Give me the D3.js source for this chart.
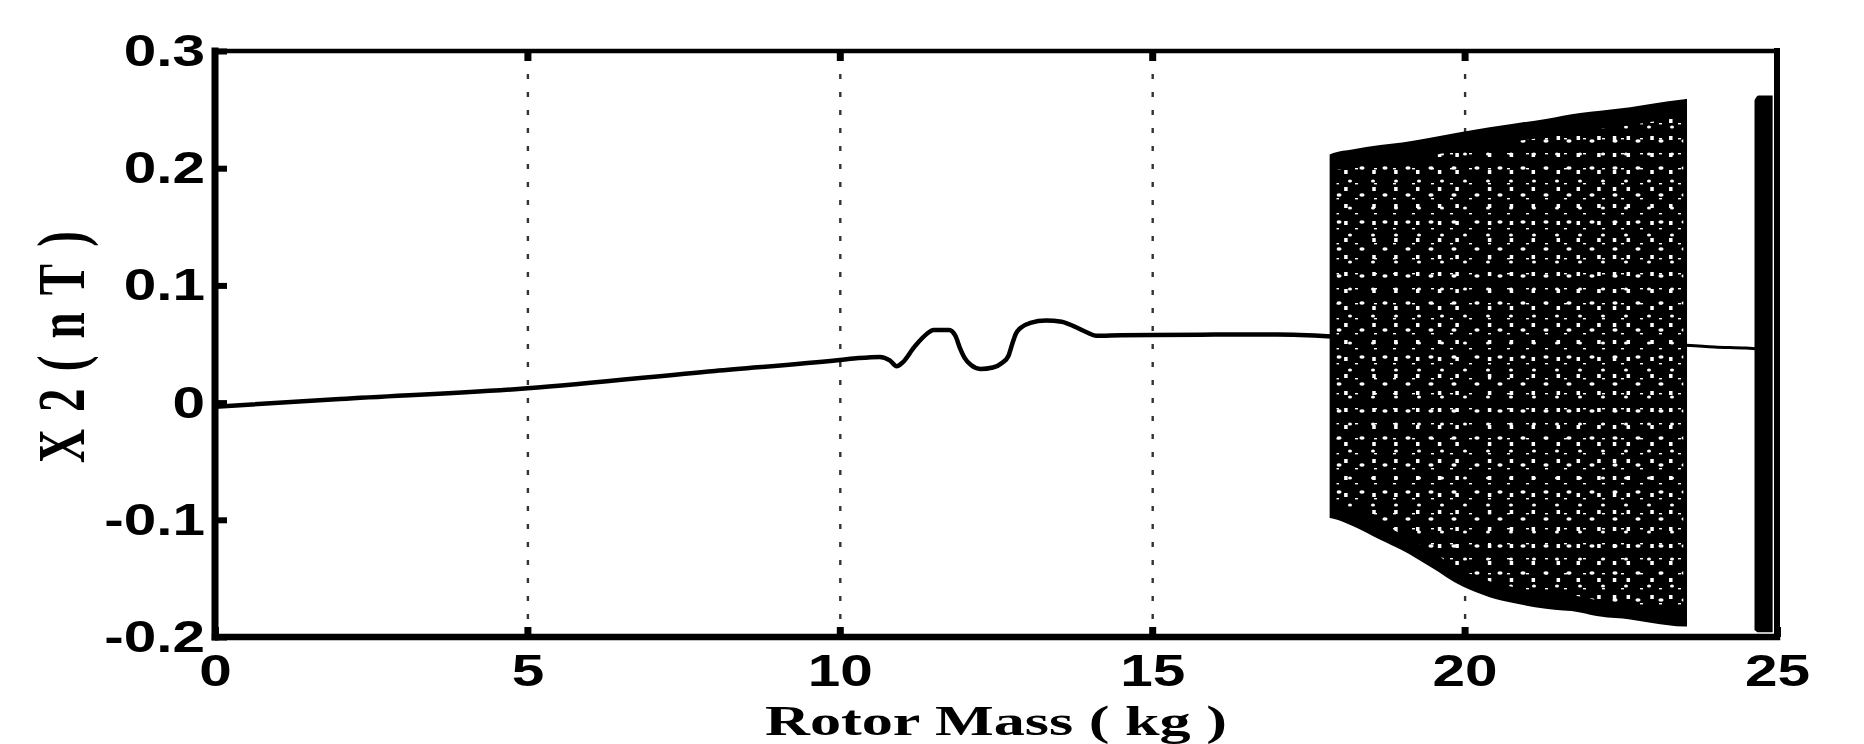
<!DOCTYPE html>
<html>
<head>
<meta charset="utf-8">
<script src="https://cdn.jsdelivr.net/npm/d3@7"></script>
<style>
html, body { margin: 0; padding: 0; background: #fff; }
</style>
</head>
<body>
<div id="container"></div>
<script>
const width = 1864;
const height = 744;

// periodic branch, rotor mass 0 .. 17.9 kg
const massA = [0, 2, 5, 8, 10, 10.3, 10.64, 10.8, 10.91, 11.0, 11.2, 11.4, 11.5, 11.75, 11.85, 11.92, 12.0, 12.1, 12.25, 12.45, 12.6, 12.7, 12.76, 12.82, 12.9, 13.05, 13.3, 13.55, 13.75, 13.95, 14.1, 14.5, 15, 16, 17, 17.87];
const x2A = [-0.0035, 0.003, 0.0122, 0.027, 0.0363, 0.038, 0.039, 0.036, 0.031, 0.034, 0.048, 0.059, 0.062, 0.062, 0.057, 0.047, 0.038, 0.032, 0.0287, 0.030, 0.034, 0.040, 0.050, 0.059, 0.064, 0.068, 0.070, 0.069, 0.065, 0.060, 0.057, 0.0575, 0.0577, 0.058, 0.058, 0.0563];
// periodic branch between the two chaotic windows
const massB = [23.54, 24.0, 24.5, 24.66];
const x2B = [0.049, 0.0475, 0.0465, 0.046];
// first chaotic window (envelope)
const chaosMass = [17.84, 17.9, 18.2, 18.65, 19.0, 19.45, 19.97, 20.4, 20.78, 21.3, 21.85, 22.17, 22.65, 23.0, 23.52, 23.56];
const chaosTop = [0.2116, 0.213, 0.216, 0.2197, 0.222, 0.226, 0.231, 0.235, 0.238, 0.242, 0.247, 0.249, 0.252, 0.255, 0.2588, 0.259];
const chaosBottom = [-0.0985, -0.099, -0.105, -0.117, -0.126, -0.140, -0.157, -0.166, -0.171, -0.176, -0.179, -0.1826, -0.185, -0.188, -0.191, -0.191];
// second chaotic window (envelope)
const chaos2Mass = [24.64, 24.7, 24.93];
const chaos2Top = [0.258, 0.262, 0.262];
const chaos2Bottom = [-0.194, -0.196, -0.196];
// light vertical streaks seen inside the first window
const streakMass = [18.1, 18.55, 18.9, 19.25, 19.6, 19.88, 20.4, 20.75, 21.1, 21.5, 21.82, 22.15, 22.4, 22.62, 23.0, 23.3];

const xTicks = [0, 5, 10, 15, 20, 25];
const xTickLabels = ["0", "5", "10", "15", "20", "25"];
const yTicks = [-0.2, -0.1, 0, 0.1, 0.2, 0.3];
const yTickLabels = ["-0.2", "-0.1", "0", "0.1", "0.2", "0.3"];
const gridTicks = [5, 10, 15, 20];

const pLeft = 215, pRight = 1777, pTop = 51, pBottom = 637;
const x = d3.scaleLinear().domain([0, 25]).range([pLeft, pRight]);
const y = d3.scaleLinear().domain([-0.2, 0.3]).range([pBottom, pTop]);

const svg = d3.select("#container")
    .append("svg")
    .attr("width", width)
    .attr("height", height)
    .style("display", "block");

svg.append("rect").attr("width", width).attr("height", height).attr("fill", "#fff");

const defs = svg.append("defs");
const p1 = defs.append("pattern").attr("id", "speck1")
    .attr("patternUnits", "userSpaceOnUse").attr("width", 23).attr("height", 27);
p1.append("ellipse").attr("cx", 5).attr("cy", 6).attr("rx", 2.6).attr("ry", 1.8).attr("fill", "#fff");
p1.append("ellipse").attr("cx", 16).attr("cy", 19).attr("rx", 2).attr("ry", 1.5).attr("fill", "#fff");
const p2 = defs.append("pattern").attr("id", "speck2")
    .attr("patternUnits", "userSpaceOnUse").attr("width", 19).attr("height", 15);
p2.append("rect").attr("x", 6).attr("y", 3).attr("width", 3).attr("height", 1.4).attr("fill", "#fff");

// vertical dotted grid
svg.append("g")
    .attr("transform", `translate(0,${pBottom})`)
    .call(d3.axisBottom(x).tickValues(gridTicks).tickSize(-(pBottom - pTop)).tickFormat(""))
    .call((g) => g.select(".domain").remove())
    .selectAll("line")
    .attr("stroke", "#333")
    .attr("stroke-width", 2.4)
    .attr("stroke-dasharray", "5,13");

// chaotic windows
const chaos = chaosMass.map((m, i) => ({ m: m, t: chaosTop[i], b: chaosBottom[i] }));
const chaos2 = chaos2Mass.map((m, i) => ({ m: m, t: chaos2Top[i], b: chaos2Bottom[i] }));
const band = d3.area().x((d) => x(d.m)).y0((d) => y(d.b)).y1((d) => y(d.t)).curve(d3.curveMonotoneX);
const inner = d3.area().x((d) => x(d.m)).y0((d) => y(d.b) - 16).y1((d) => y(d.t) + 18).curve(d3.curveMonotoneX);

svg.append("path").datum(chaos).attr("d", band).attr("fill", "#000");
svg.append("path").datum(chaos2).attr("d", band).attr("fill", "#000");

defs.append("clipPath").attr("id", "innerClip")
    .append("path").datum(chaos).attr("d", inner);

const tex = svg.append("g").attr("clip-path", "url(#innerClip)");
tex.append("rect").attr("x", x(17.95)).attr("y", pTop).attr("width", x(23.5) - x(17.95)).attr("height", pBottom - pTop)
    .attr("fill", "url(#speck1)");
tex.append("rect").attr("x", x(17.95)).attr("y", pTop).attr("width", x(23.5) - x(17.95)).attr("height", pBottom - pTop)
    .attr("fill", "url(#speck2)");
tex.selectAll("line.streak")
    .data(streakMass)
    .enter()
    .append("line")
    .attr("class", "streak")
    .attr("x1", (d) => x(d)).attr("x2", (d) => x(d))
    .attr("y1", pTop).attr("y2", pBottom)
    .attr("stroke", "#fff")
    .attr("stroke-width", 3.5)
    .attr("stroke-dasharray", "4,13");

svg.append("rect").attr("x", x(24.68)).attr("y", y(0.22)).attr("width", x(24.88) - x(24.68)).attr("height", y(-0.16) - y(0.22))
    .attr("fill", "url(#speck2)");

// periodic branches
const line = d3.line().x((d) => x(d[0])).y((d) => y(d[1])).curve(d3.curveMonotoneX);
svg.append("path").datum(massA.map((m, i) => [m, x2A[i]]))
    .attr("d", line).attr("fill", "none").attr("stroke", "#000").attr("stroke-width", 4.5);
svg.append("path").datum(massB.map((m, i) => [m, x2B[i]]))
    .attr("d", line).attr("fill", "none").attr("stroke", "#000").attr("stroke-width", 3);

// frame
const frame = svg.append("g").attr("stroke", "#000").attr("stroke-linecap", "square");
frame.append("line").attr("x1", pLeft).attr("x2", pRight).attr("y1", pTop).attr("y2", pTop).attr("stroke-width", 4.5);
frame.append("line").attr("x1", pLeft).attr("x2", pRight).attr("y1", pBottom).attr("y2", pBottom).attr("stroke-width", 6.5);
frame.append("line").attr("x1", pLeft).attr("x2", pLeft).attr("y1", pTop).attr("y2", pBottom).attr("stroke-width", 7);
frame.append("line").attr("x1", pRight).attr("x2", pRight).attr("y1", pTop).attr("y2", pBottom).attr("stroke-width", 6);

const sx = 1.3;
const tickFont = "'Liberation Sans', Arial, sans-serif";

// bottom axis: inward ticks + labels
const xAxis = svg.append("g")
    .attr("transform", `translate(0,${pBottom})`)
    .call(d3.axisBottom(x).tickValues(xTicks).tickSizeInner(-10).tickSizeOuter(0).tickPadding(17)
        .tickFormat((d, i) => xTickLabels[i]));
xAxis.select(".domain").remove();
xAxis.selectAll("line").attr("stroke", "#000").attr("stroke-width", 7);
xAxis.selectAll("text")
    .attr("font-family", tickFont).attr("font-weight", "bold").attr("font-size", 45)
    .attr("fill", "#000")
    .attr("transform", `scale(${sx},1)`);

// top axis: inward ticks only
const xTopAxis = svg.append("g")
    .attr("transform", `translate(0,${pTop})`)
    .call(d3.axisTop(x).tickValues(gridTicks).tickSizeInner(-10).tickSizeOuter(0).tickFormat(""));
xTopAxis.select(".domain").remove();
xTopAxis.selectAll("line").attr("stroke", "#000").attr("stroke-width", 7);

// left axis
const yAxis = svg.append("g")
    .attr("transform", `translate(${pLeft},0)`)
    .call(d3.axisLeft(y).tickValues(yTicks).tickSizeInner(-12).tickSizeOuter(0).tickPadding(10)
        .tickFormat((d, i) => yTickLabels[i]));
yAxis.select(".domain").remove();
yAxis.selectAll("line").attr("stroke", "#000").attr("stroke-width", 6);
yAxis.selectAll("text")
    .attr("font-family", tickFont).attr("font-weight", "bold").attr("font-size", 45)
    .attr("fill", "#000")
    .attr("x", -10 / sx)
    .attr("transform", `scale(${sx},1)`);

// axis titles
svg.append("text")
    .attr("x", (pLeft + pRight) / 2).attr("y", 735)
    .attr("text-anchor", "middle")
    .attr("font-family", "'Liberation Serif', 'Times New Roman', serif")
    .attr("font-weight", "bold").attr("font-size", 43)
    .attr("textLength", 462).attr("lengthAdjust", "spacingAndGlyphs")
    .text("Rotor Mass ( kg )");

svg.append("text")
    .attr("transform", "translate(84,347) scale(1.45,1) rotate(-90)")
    .attr("text-anchor", "middle")
    .attr("font-family", "'Liberation Serif', 'Times New Roman', serif")
    .attr("font-weight", "bold").attr("font-size", 47)
    .attr("textLength", 232).attr("lengthAdjust", "spacing")
    .text("X2(nT)");
</script>
</body>
</html>
